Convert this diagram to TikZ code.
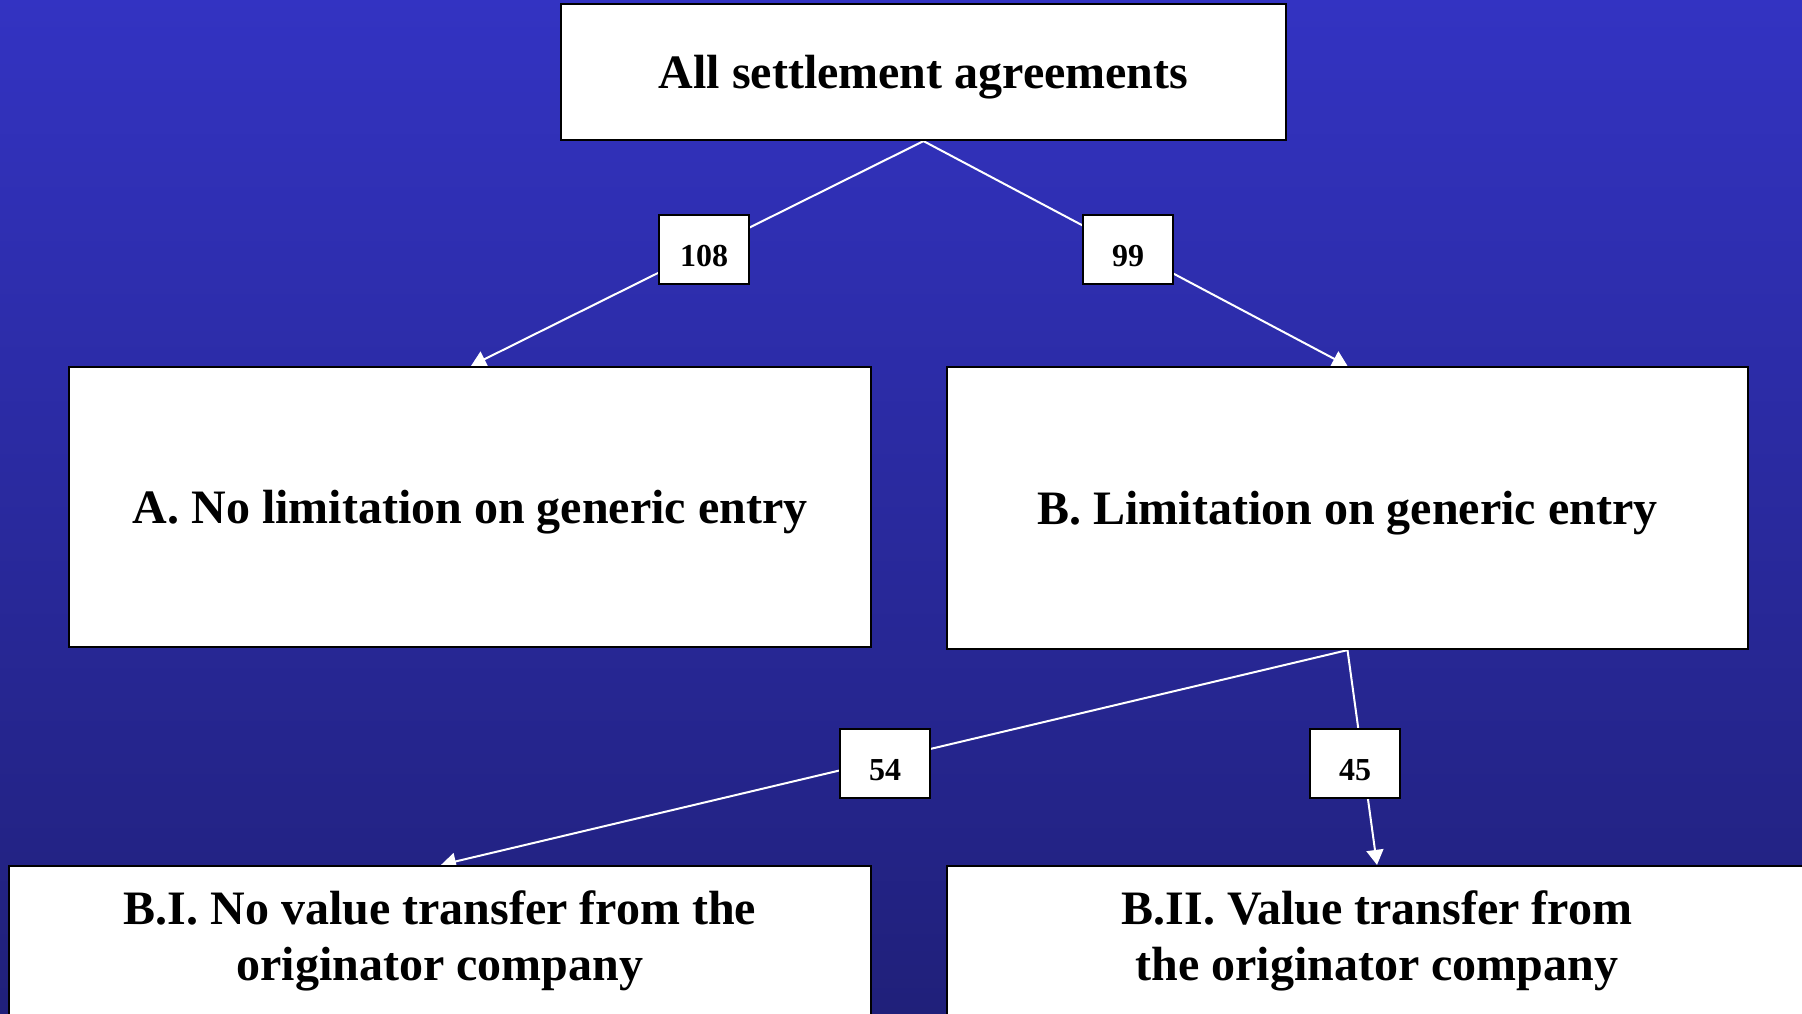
\documentclass[tikz,border=0pt]{standalone}
\usepackage{fontspec}
\setmainfont{Liberation Serif}
\usetikzlibrary{arrows.meta,calc}
\definecolor{bgtop}{RGB}{51,51,194}
\definecolor{bgbot}{RGB}{32,32,122}
\pgfdeclarelayer{bg}
\pgfdeclarelayer{lines}
\pgfsetlayers{bg,lines,main}
\begin{document}
\begin{tikzpicture}[x=1pt,y=-1pt,
  box/.style={draw=black, line width=2.2pt, fill=white, inner sep=0pt, align=center,
    font=\bfseries\fontsize{48}{56}\selectfont},
  oneline/.style={box, text depth=0pt},
  count/.style={draw=black, line width=2pt, fill=white, inner sep=0pt,
    minimum width=90pt, minimum height=69pt, text height=34pt, text depth=0pt,
    font=\bfseries\fontsize{32}{36}\selectfont},
  link/.style={draw=white, line width=2pt, -{Triangle[width=17pt,length=15pt]}}
]
% background
\begin{pgfonlayer}{bg}
\shade[top color=bgtop, bottom color=bgbot] (0,0) rectangle (1802,1014);
\end{pgfonlayer}
\useasboundingbox (0,0) rectangle (1802,1014);

% category boxes
\node[oneline, minimum width=725pt, minimum height=136pt] (all) at (923.5,72) {All settlement agreements};
\node[oneline, minimum width=802pt, minimum height=280pt] (A) at (470,507) {A. No limitation on generic entry};
\node[oneline, minimum width=801pt, minimum height=282pt] (B) at (1347.5,508) {B. Limitation on generic entry};
\node[box, minimum width=862pt, minimum height=150pt] (BI) at (440,941) {B.I. No value transfer from the\\originator company};
\node[box, minimum width=860pt, minimum height=150pt] (BII) at (1377,941) {B.II. Value transfer from\\the originator company};

% arrow ends on the top border of each target box
\coordinate (aIn) at ($(A.north)+(1,0)$);
\coordinate (bIn) at (B.north);
\coordinate (biIn) at ($(BI.north)+(1,0)$);
\coordinate (biiIn) at (BII.north);

% connectors, drawn beneath the boxes
\begin{pgfonlayer}{lines}
\draw[link] (all.south) -- (aIn);
\draw[link] (all.south) -- (bIn);
\draw[link] (B.south) -- (biIn);
\draw[link] (B.south) -- (biiIn);
\end{pgfonlayer}

% counts
\node[count] (n108) at (704,249.5) {108};
\node[count] (n99) at (1128,249.5) {99};
\node[count] (n54) at (885,763.5) {54};
\node[count] (n45) at (1355,763.5) {45};
\end{tikzpicture}
\end{document}
